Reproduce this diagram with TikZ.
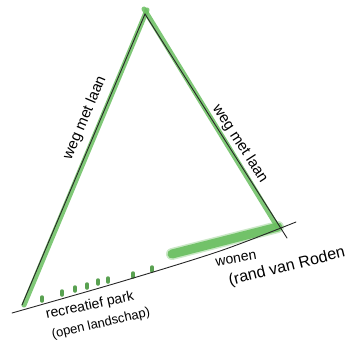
\documentclass[tikz,border=0pt]{standalone}
\usepackage{fontspec}
\setmainfont{Liberation Sans}
\begin{document}
\begin{tikzpicture}[x=1pt,y=-1pt,
  ink/.style={draw=black!85,line width=0.9pt,line cap=round},
  marker/.style={draw=lgreen,line width=5pt,line cap=round,opacity=0.85},
  blob/.style={draw=lgreen,line width=9pt,line cap=round,opacity=0.9},
  tick/.style={draw=lgreen!85!black,line width=3.5pt,line cap=round},
  hand/.style={font=\fontsize{15}{17}\selectfont,inner sep=0pt}]
\definecolor{lgreen}{RGB}{105,190,95}
\useasboundingbox (0,0) rectangle (354,346);
% vertices
\coordinate (apex) at (145,14);
\coordinate (bl) at (22,305);
\coordinate (br) at (278,227);
\coordinate (rend) at (287,238);
\coordinate (bstart) at (12,313);
\coordinate (bmid1) at (120,282);
\coordinate (bmid2) at (220,251);
\coordinate (bend) at (296,222);
\coordinate (gs) at (172,254);
% green marker bands
\draw[marker] ([xshift=2pt]bl) -- ([xshift=2pt,yshift=4pt]apex);
\draw[marker] ([xshift=-1pt,yshift=5pt]apex) -- ([xshift=-1pt,yshift=1pt]br);
\draw[blob] (gs) -- (br);
\draw[draw=lgreen,line width=12pt,line cap=round,opacity=0.35] (gs) -- (br);
% ticks on bottom line
\foreach \x/\y in {42/302,62/296,75/292,87/289,98/285,108/283,133/278,152/272}{
  \draw[tick] (\x,\y-5) -- (\x,\y-1);
}
% black ink lines
\draw[ink] (bl) -- (apex) -- (rend);
\draw[ink] plot[smooth,tension=0.5] coordinates {(bstart) (bmid1) (bmid2) (bend)};
% labels
\node[hand,rotate=67] (lleft) at (85,118) {weg met laan};
\node[hand,rotate=-57] (lright) at (240,144) {weg met laan};
\node[hand,rotate=10,font=\fontsize{14}{16}\selectfont] (wonen) at (236,259) {wonen};
\node[hand,rotate=14,font=\fontsize{16}{18}\selectfont] (rand) at (287,267) {(rand van Roden};
\node[hand,rotate=12,font=\fontsize{14}{16}\selectfont] (rec) at (90,306) {recreatief park};
\node[hand,rotate=13,font=\fontsize{13}{15}\selectfont] (open) at (101,324) {(open landschap)};
\end{tikzpicture}
\end{document}
